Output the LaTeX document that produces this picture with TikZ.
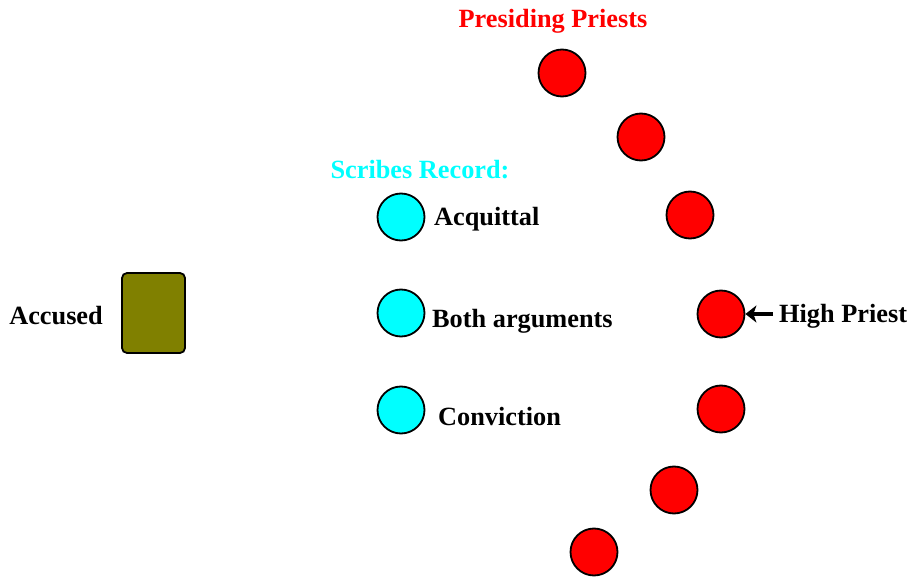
\documentclass[tikz,border=0pt]{standalone}
\usepackage{fontspec}
\setmainfont{Liberation Serif}
\usetikzlibrary{arrows.meta}
\definecolor{pcyan}{RGB}{0,255,255}
\definecolor{pred}{RGB}{255,0,0}
\definecolor{polive}{RGB}{128,128,0}
\begin{document}
\begin{tikzpicture}[x=1pt,y=-1pt,
  priest/.style={circle,draw=black,line width=1.8pt,fill=pred,minimum size=47pt,inner sep=0pt},
  scribe/.style={circle,draw=black,line width=1.8pt,fill=pcyan,minimum size=47pt,inner sep=0pt},
  lbl/.style={font=\fontsize{26.3}{30}\selectfont\bfseries,inner sep=0pt}]
\useasboundingbox (0,0) rectangle (911,580);
\node[lbl,text=pred] (title) at (553,21) {Presiding Priests};
\node[lbl,text=pcyan] (scr) at (420,170) {Scribes Record:};
\node[priest] (p1) at (562,73) {};
\node[priest] (p2) at (641,137) {};
\node[priest] (p3) at (690,215) {};
\node[priest] (p4) at (721,314) {};
\node[priest] (p5) at (721,409) {};
\node[priest] (p6) at (674,490) {};
\node[priest] (p7) at (594,552) {};
\node[scribe] (s1) at (401,217) {};
\node[scribe] (s2) at (401,313) {};
\node[scribe] (s3) at (401,410) {};
\node[lbl,anchor=west] (t1) at (434,219) {Acquittal};
\node[lbl,anchor=west] (t2) at (432,321) {Both arguments};
\node[lbl,anchor=west] (t3) at (438,417) {Conviction};
\node[draw=black,line width=1.8pt,fill=polive,rounded corners=5pt,minimum width=63pt,minimum height=80pt,inner sep=0pt] (acc) at (153.5,313) {};
\node[lbl,anchor=east] (accl) at (103,316) {Accused};
\node[lbl,anchor=west] (hp) at (779,316) {High Priest};
\coordinate (hpa) at (773,314);
\draw[line width=4pt,-{Stealth[length=11pt,width=17pt,inset=3pt]}] (hpa) -- (p4.east);
\end{tikzpicture}
\end{document}
